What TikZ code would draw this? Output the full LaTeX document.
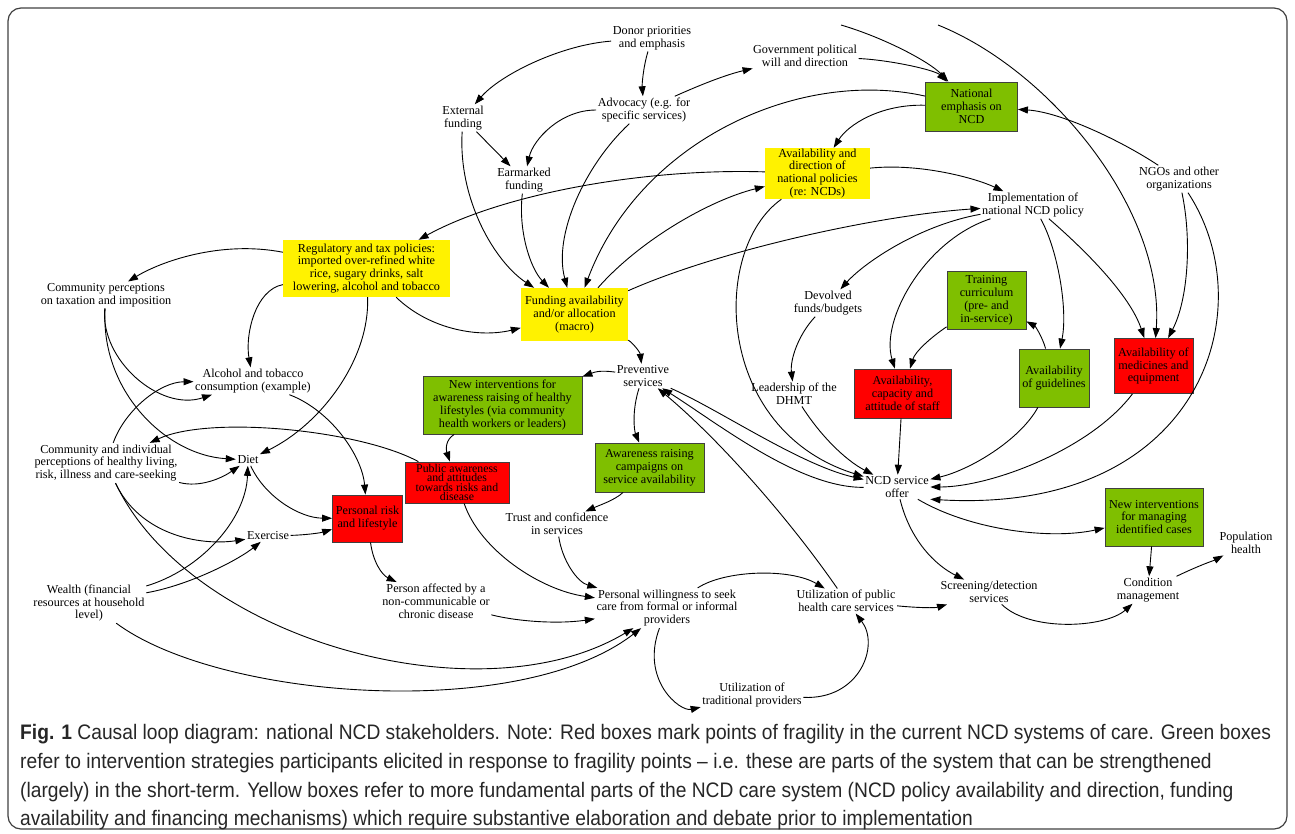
\documentclass[tikz,border=0pt]{standalone}
\usepackage{fontspec}
\setmainfont{Liberation Serif}
\newfontfamily\capfont[FakeStretch=0.915]{Liberation Sans}
\usetikzlibrary{arrows.meta}
\definecolor{ncdgreen}{RGB}{127,191,0}
\begin{document}
\begin{tikzpicture}[x=1pt,y=-1pt,
  every node/.style={font=\fontsize{12.2}{12.9}\selectfont, align=center, inner sep=1.5pt},
  boxn/.style={inner sep=0pt, draw=black!75, line width=0.8pt},
  gbox/.style={boxn, fill=ncdgreen},
  rbox/.style={boxn, fill=red},
  ybox/.style={inner sep=0pt, fill=yellow},
  link/.style={draw=black, line width=0.9pt, -{Triangle[length=10pt,width=7pt]}},
  capt/.style={font=\capfont\fontsize{21}{23}\selectfont, inner sep=0pt, anchor=base west, align=left, text=black!85}
]
\useasboundingbox (0,0) rectangle (1295,833);
\draw[line width=1.2pt, black!75, rounded corners=13pt] (8,8) rectangle (1287,829);

% ---------- nodes ----------
\node (donor) at (652,38) {Donor priorities\\and emphasis};
\node (gov) at (805,56) {Government political\\will and direction};
\node[gbox,minimum width=92pt,minimum height=49pt] (natl) at (971.5,106.5) {National\\emphasis on\\NCD};
\node (ext) at (463,118) {External\\funding};
\node (adv) at (644,110) {Advocacy (e.g. for\\specific services)};
\node (earm) at (524,180) {Earmarked\\funding};
\node[ybox,minimum width=105pt,minimum height=51pt] (avpol) at (817.5,173.5) {Availability and\\direction of\\national policies\\(re: NCDs)};
\node (impl) at (1033,205) {Implementation of\\national NCD policy};
\node (ngo) at (1179,179) {NGOs and other\\organizations};
\node[ybox,minimum width=167pt,minimum height=57pt] (reg) at (366.5,268.5) {Regulatory and tax policies:\\imported over-refined white\\rice, sugary drinks, salt\\lowering, alcohol and tobacco};
\node (commtax) at (106,295) {Community perceptions\\on taxation and imposition};
\node[ybox,minimum width=107pt,minimum height=53pt] (fund) at (574.5,314.5) {Funding availability\\and/or allocation\\(macro)};
\node (devolved) at (828,303) {Devolved\\funds/budgets};
\node[gbox,minimum width=79pt,minimum height=58pt] (train) at (986.5,300) {Training\\curriculum\\(pre- and\\in-service)};
\node[gbox,minimum width=70pt,minimum height=58pt] (guide) at (1054,378) {Availability\\of guidelines};
\node[rbox,minimum width=79pt,minimum height=55pt] (med) at (1153.5,366) {Availability of\\medicines and\\equipment};
\node[rbox,minimum width=97pt,minimum height=49pt] (staff) at (902.5,393.5) {Availability,\\capacity and\\attitude of staff};
\node (dhmt) at (794,394) {Leadership of the\\DHMT};
\node (prev) at (643,376) {Preventive\\services};
\node[gbox,minimum width=159pt,minimum height=58pt] (newaw) at (502.5,405) {New interventions for\\awareness raising of healthy\\lifestyles (via community\\health workers or leaders)};
\node (alc) at (253,381) {Alcohol and tobacco\\consumption (example)};
\node (commind) at (106,463) {Community and individual\\perceptions of healthy living,\\risk, illness and care-seeking};
\node (diet) at (248,460) {Diet};
\node[rbox,minimum width=104pt,minimum height=41pt,font=\fontsize{11.8}{9.6}\selectfont] (pubaw) at (457,482.5) {Public awareness\\and attitudes\\towards risks and\\disease};
\node[gbox,minimum width=109pt,minimum height=49pt] (awcamp) at (649.5,467.5) {Awareness raising\\campaigns on\\service availability};
\node[rbox,minimum width=70pt,minimum height=47pt] (risk) at (367.5,518.5) {Personal risk\\and lifestyle};
\node (exer) at (268,536) {Exercise};
\node (trust) at (557,524) {Trust and confidence\\in services};
\node (ncd) at (897,487) {NCD service\\offer};
\node[gbox,minimum width=98pt,minimum height=58pt] (newman) at (1154,517) {New interventions\\for managing\\identified cases};
\node (pop) at (1246,543) {Population\\health};
\node (wealth) at (89,603) {Wealth (financial\\resources at household\\level)};
\node (affected) at (436,601) {Person affected by a\\non-communicable or\\chronic disease};
\node (will) at (667,608) {Personal willingness to seek\\care from formal or informal\\providers};
\node (utilpub) at (846,601) {Utilization of public\\health care services};
\node (screen) at (989,592) {Screening/detection\\services};
\node (cond) at (1148,590) {Condition\\management};
\node (trad) at (752,695) {Utilization of\\traditional providers};
\coordinate (clipA) at (841,25);
\coordinate (clipB) at (938,25);

% ---------- connectors ----------
\draw[link] (donor) .. controls (560,45) and (500,75) .. (ext);
\draw[link] (donor) .. controls (643,68) and (642,85) .. (adv);
\draw[link] (adv) .. controls (700,85) and (725,75) .. (gov);
\draw[link] (gov) .. controls (890,60) and (935,70) .. (natl);
\draw[link] (clipA) .. controls (885,38) and (930,62) .. (natl);
\draw[link] (natl) .. controls (880,104) and (848,125) .. (avpol);
\draw[link] (natl) .. controls (800,68) and (640,140) .. (fund);
\draw[link] (avpol) .. controls (640,168) and (500,195) .. (reg);
\draw[link] (avpol) .. controls (920,163) and (975,178) .. (impl);
\draw[link] (fund) .. controls (640,240) and (710,200) .. (avpol);
\draw[link] (fund) .. controls (720,250) and (880,215) .. (impl);
\draw[link] (avpol) .. controls (710,250) and (715,430) .. (ncd);
\draw[link] (impl) .. controls (920,225) and (865,262) .. (devolved);
\draw[link] (impl) .. controls (925,240) and (880,320) .. (staff);
\draw[link] (impl) .. controls (1058,250) and (1068,310) .. (guide);
\draw[link] (impl) .. controls (1085,250) and (1130,295) .. (med);
\draw[link] (train) .. controls (930,338) and (915,352) .. (staff);
\draw[link] (guide) .. controls (1042,336) and (1035,326) .. (train);
\draw[link] (clipB) .. controls (1050,70) and (1165,210) .. (med);
\draw[link] (ngo) .. controls (1120,140) and (1060,112) .. (natl);
\draw[link] (ngo) .. controls (1192,240) and (1188,300) .. (med);
\draw[link] (ngo) .. controls (1265,310) and (1200,515) .. (ncd.south east);
\draw[link] (med) .. controls (1090,450) and (990,487) .. (ncd);
\draw[link] (guide) .. controls (1020,440) and (970,470) .. (ncd);
\draw[link] (staff) -- (ncd);
\draw[link] (dhmt) .. controls (820,435) and (845,460) .. (ncd);
\draw[link] (devolved) .. controls (798,335) and (790,360) .. (dhmt);
\draw[link] (prev) .. controls (720,410) and (800,465) .. (ncd);
\draw[link] (ncd) .. controls (800,488) and (720,425) .. (prev);
\draw[link] (utilpub) .. controls (790,520) and (720,440) .. (prev);
\draw[link] (fund) .. controls (632,342) and (640,352) .. (prev);
\draw[link] (prev) .. controls (600,370) and (595,372) .. (newaw);
\draw[link] (prev) .. controls (632,410) and (634,430) .. (awcamp);
\draw[link] (awcamp) .. controls (615,500) and (600,505) .. (trust);
\draw[link] (trust) .. controls (562,560) and (577,582) .. (will);
\draw[link] (newaw) .. controls (445,440) and (446,450) .. (pubaw);
\draw[link] (pubaw) .. controls (360,430) and (210,415) .. (commind);
\draw[link] (pubaw) .. controls (480,550) and (540,590) .. (will);
\draw[link] (alc) .. controls (330,410) and (362,455) .. (risk);
\draw[link] (reg) .. controls (255,290) and (245,335) .. (alc);
\draw[link] (reg) .. controls (370,360) and (320,425) .. (diet);
\draw[link] (reg) .. controls (430,330) and (480,338) .. (fund);
\draw[link] (reg) .. controls (220,240) and (160,262) .. (commtax);
\draw[link] (commtax) .. controls (100,360) and (160,412) .. (alc);
\draw[link] (commtax) .. controls (100,390) and (165,455) .. (diet);
\draw[link] (commind) .. controls (125,410) and (160,382) .. (alc);
\draw[link] (commind) .. controls (200,488) and (222,478) .. (diet);
\draw[link] (commind) .. controls (140,535) and (200,546) .. (exer);
\draw[link] (commind) .. controls (190,640) and (480,720) .. (will);
\draw[link] (diet) .. controls (265,497) and (300,518) .. (risk);
\draw[link] (exer) .. controls (305,535) and (320,533) .. (risk);
\draw[link] (wealth) .. controls (200,570) and (246,520) .. (diet);
\draw[link] (wealth) .. controls (190,585) and (238,560) .. (exer);
\draw[link] (wealth) .. controls (220,700) and (520,722) .. (will);
\draw[link] (risk) .. controls (373,562) and (382,575) .. (affected);
\draw[link] (affected) .. controls (520,622) and (560,624) .. (will);
\draw[link] (will) .. controls (725,570) and (790,568) .. (utilpub);
\draw[link] (will) .. controls (640,680) and (680,712) .. (trad);
\draw[link] (trad) .. controls (860,700) and (880,645) .. (utilpub);
\draw[link] (utilpub) .. controls (920,608) and (935,608) .. (screen);
\draw[link] (ncd) .. controls (910,540) and (935,565) .. (screen);
\draw[link] (ncd) .. controls (970,530) and (1050,540) .. (newman);
\draw[link] (newman) -- (cond);
\draw[link] (screen) .. controls (1030,632) and (1105,628) .. (cond);
\draw[link] (cond) .. controls (1200,565) and (1215,560) .. (pop);
\draw[link] (ext) -- (earm);
\draw[link] (adv) .. controls (560,110) and (533,140) .. (earm);
\draw[link] (ext) .. controls (458,200) and (495,262) .. (fund);
\draw[link] (earm) .. controls (518,230) and (530,268) .. (fund);
\draw[link] (adv) .. controls (585,165) and (553,235) .. (fund);

% ---------- caption ----------
\node[capt] (cap1) at (20,739) {\textbf{Fig. 1} Causal loop diagram: national NCD stakeholders. Note: Red boxes mark points of fragility in the current NCD systems of care. Green boxes};
\node[capt] (cap2) at (20,768) {refer to intervention strategies participants elicited in response to fragility points – i.e. these are parts of the system that can be strengthened};
\node[capt] (cap3) at (20,797) {(largely) in the short-term. Yellow boxes refer to more fundamental parts of the NCD care system (NCD policy availability and direction, funding};
\node[capt] (cap4) at (20,825) {availability and financing mechanisms) which require substantive elaboration and debate prior to implementation};
\end{tikzpicture}
\end{document}
